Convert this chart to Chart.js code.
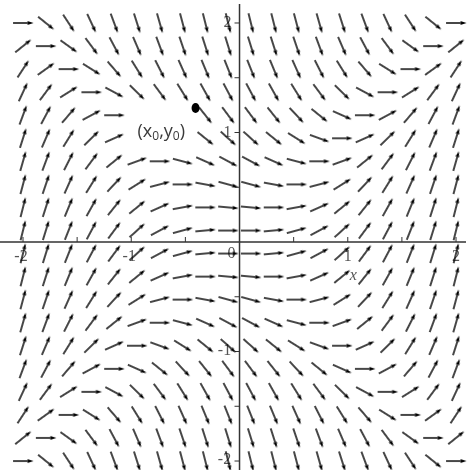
<!DOCTYPE html>
<html>
<head>
<meta charset="utf-8">
<script src="https://cdn.jsdelivr.net/npm/chart.js@4/dist/chart.umd.min.js"></script>
<style>
  html, body { margin: 0; padding: 0; background: #fff; }
  #wrap { width: 474px; height: 470px; }
</style>
</head>
<body>
<div id="wrap"><canvas id="c" width="474" height="470"></canvas></div>
<script>
// Direction field of dy/dx on a 20 x 20 grid over [-2, 2] x [-2, 2]
const gridX = [-2, -1.789, -1.579, -1.368, -1.158, -0.947, -0.737, -0.526, -0.316, -0.105,
               0.105, 0.316, 0.526, 0.737, 0.947, 1.158, 1.368, 1.579, 1.789, 2];
const gridY = [2, 1.789, 1.579, 1.368, 1.158, 0.947, 0.737, 0.526, 0.316, 0.105,
               -0.105, -0.316, -0.526, -0.737, -0.947, -1.158, -1.368, -1.579, -1.789, -2];

// slope at each grid node, one row per gridY value (top to bottom)
const slopes = [
  [0.00, -0.80, -1.51, -2.13, -2.66, -3.10, -3.46, -3.72, -3.90, -3.99, -3.99, -3.90, -3.72, -3.46, -3.10, -2.66, -2.13, -1.51, -0.80, 0.00],
  [0.80, 0.00, -0.71, -1.33, -1.86, -2.30, -2.66, -2.92, -3.10, -3.19, -3.19, -3.10, -2.92, -2.66, -2.30, -1.86, -1.33, -0.71, 0.00, 0.80],
  [1.51, 0.71, 0.00, -0.62, -1.15, -1.59, -1.95, -2.21, -2.39, -2.48, -2.48, -2.39, -2.21, -1.95, -1.59, -1.15, -0.62, 0.00, 0.71, 1.51],
  [2.13, 1.33, 0.62, 0.00, -0.53, -0.97, -1.33, -1.59, -1.77, -1.86, -1.86, -1.77, -1.59, -1.33, -0.97, -0.53, 0.00, 0.62, 1.33, 2.13],
  [2.66, 1.86, 1.15, 0.53, 0.00, -0.44, -0.80, -1.06, -1.24, -1.33, -1.33, -1.24, -1.06, -0.80, -0.44, 0.00, 0.53, 1.15, 1.86, 2.66],
  [3.10, 2.30, 1.59, 0.97, 0.44, 0.00, -0.36, -0.62, -0.80, -0.89, -0.89, -0.80, -0.62, -0.36, 0.00, 0.44, 0.97, 1.59, 2.30, 3.10],
  [3.46, 2.66, 1.95, 1.33, 0.80, 0.36, 0.00, -0.26, -0.44, -0.53, -0.53, -0.44, -0.26, 0.00, 0.36, 0.80, 1.33, 1.95, 2.66, 3.46],
  [3.72, 2.92, 2.21, 1.59, 1.06, 0.62, 0.26, 0.00, -0.18, -0.27, -0.27, -0.18, 0.00, 0.26, 0.62, 1.06, 1.59, 2.21, 2.92, 3.72],
  [3.90, 3.10, 2.39, 1.77, 1.24, 0.80, 0.44, 0.18, 0.00, -0.09, -0.09, 0.00, 0.18, 0.44, 0.80, 1.24, 1.77, 2.39, 3.10, 3.90],
  [3.99, 3.19, 2.48, 1.86, 1.33, 0.89, 0.53, 0.27, 0.09, 0.00, 0.00, 0.09, 0.27, 0.53, 0.89, 1.33, 1.86, 2.48, 3.19, 3.99],
  [3.99, 3.19, 2.48, 1.86, 1.33, 0.89, 0.53, 0.27, 0.09, 0.00, 0.00, 0.09, 0.27, 0.53, 0.89, 1.33, 1.86, 2.48, 3.19, 3.99],
  [3.90, 3.10, 2.39, 1.77, 1.24, 0.80, 0.44, 0.18, 0.00, -0.09, -0.09, 0.00, 0.18, 0.44, 0.80, 1.24, 1.77, 2.39, 3.10, 3.90],
  [3.72, 2.92, 2.21, 1.59, 1.06, 0.62, 0.26, 0.00, -0.18, -0.27, -0.27, -0.18, 0.00, 0.26, 0.62, 1.06, 1.59, 2.21, 2.92, 3.72],
  [3.46, 2.66, 1.95, 1.33, 0.80, 0.36, 0.00, -0.26, -0.44, -0.53, -0.53, -0.44, -0.26, 0.00, 0.36, 0.80, 1.33, 1.95, 2.66, 3.46],
  [3.10, 2.30, 1.59, 0.97, 0.44, 0.00, -0.36, -0.62, -0.80, -0.89, -0.89, -0.80, -0.62, -0.36, 0.00, 0.44, 0.97, 1.59, 2.30, 3.10],
  [2.66, 1.86, 1.15, 0.53, 0.00, -0.44, -0.80, -1.06, -1.24, -1.33, -1.33, -1.24, -1.06, -0.80, -0.44, 0.00, 0.53, 1.15, 1.86, 2.66],
  [2.13, 1.33, 0.62, 0.00, -0.53, -0.97, -1.33, -1.59, -1.77, -1.86, -1.86, -1.77, -1.59, -1.33, -0.97, -0.53, 0.00, 0.62, 1.33, 2.13],
  [1.51, 0.71, 0.00, -0.62, -1.15, -1.59, -1.95, -2.21, -2.39, -2.48, -2.48, -2.39, -2.21, -1.95, -1.59, -1.15, -0.62, 0.00, 0.71, 1.51],
  [0.80, 0.00, -0.71, -1.33, -1.86, -2.30, -2.66, -2.92, -3.10, -3.19, -3.19, -3.10, -2.92, -2.66, -2.30, -1.86, -1.33, -0.71, 0.00, 0.80],
  [0.00, -0.80, -1.51, -2.13, -2.66, -3.10, -3.46, -3.72, -3.90, -3.99, -3.99, -3.90, -3.72, -3.46, -3.10, -2.66, -2.13, -1.51, -0.80, 0.00]
];

// initial point
const startX = [-0.406];
const startY = [1.224];
const startLabel = ['x', '0', 'y', '0'];

// axis ticks and labels
const xTickLabels = [-2, -1, 0, 1, 2];
const yTickLabels = [-2, -1, 1, 2];
const minorTicks = [-2, -1.5, -1, -0.5, 0.5, 1, 1.5, 2];
const xAxisTitle = 'x';

// build the point list for the field
const fieldPoints = [];
gridY.forEach((yv, r) => {
  gridX.forEach((xv, c) => {
    fieldPoints.push({ x: xv, y: yv, s: slopes[r][c] });
  });
});

// one arrow glyph, pointing right, rotated per point by Chart.js
function makeArrow() {
  const cv = document.createElement('canvas');
  cv.width = 24; cv.height = 24;
  const g = cv.getContext('2d');
  g.strokeStyle = '#000';
  g.fillStyle = '#000';
  g.lineWidth = 1.45;
  g.lineCap = 'butt';
  g.beginPath();
  g.moveTo(2, 12);
  g.lineTo(19, 12);
  g.stroke();
  g.beginPath();
  g.moveTo(22.5, 12);
  g.lineTo(16.3, 10.1);
  g.lineTo(17.2, 12);
  g.lineTo(16.3, 13.9);
  g.closePath();
  g.fill();
  return cv;
}
const arrowImg = makeArrow();

const axesPlugin = {
  id: 'axesAtOrigin',
  beforeDatasetsDraw(chart) {
    const { ctx, scales: { x, y } } = chart;
    const x0 = x.getPixelForValue(0);
    const y0 = y.getPixelForValue(0);
    ctx.save();
    ctx.strokeStyle = '#333';
    ctx.lineWidth = 1.5;
    ctx.beginPath();
    ctx.moveTo(0, y0);
    ctx.lineTo(466, y0);
    ctx.moveTo(x0, 4);
    ctx.lineTo(x0, 470);
    ctx.stroke();
    ctx.lineWidth = 1;
    ctx.beginPath();
    minorTicks.forEach(v => {
      const px = x.getPixelForValue(v);
      ctx.moveTo(px, y0 - 5);
      ctx.lineTo(px, y0);
      const py = y.getPixelForValue(v);
      ctx.moveTo(x0 - 5, py);
      ctx.lineTo(x0, py);
    });
    ctx.stroke();
    ctx.fillStyle = '#555';
    ctx.font = '16px "Liberation Serif", "Times New Roman", "DejaVu Serif", serif';
    ctx.textAlign = 'center';
    ctx.textBaseline = 'middle';
    xTickLabels.forEach(v => {
      const px = x.getPixelForValue(v) - (v < 0 ? 2 : (v === 0 ? 8 : 0));
      ctx.fillText(String(v), px, y0 + (v === 0 ? 12 : 15));
    });
    yTickLabels.forEach(v => {
      const py = y.getPixelForValue(v);
      ctx.fillText(String(v), x0 - (v < 0 ? 15 : 12), py + (v > 0 ? 0 : -1));
    });
    ctx.font = 'italic 16px "Liberation Serif", "Times New Roman", "DejaVu Serif", serif';
    ctx.fillText(xAxisTitle, x.getPixelForValue(1.05), y0 + 34);
    ctx.restore();
  },
  afterDatasetsDraw(chart) {
    const { ctx, scales: { x, y } } = chart;
    const px = x.getPixelForValue(startX[0]);
    const py = y.getPixelForValue(startY[0]);
    ctx.save();
    // white patch behind the label
    ctx.fillStyle = '#fff';
    ctx.fillRect(px - 70, py - 5, 67, 47);
    // label (x0,y0) with subscripts
    const big = '18px "Open Sans", "DejaVu Sans", sans-serif';
    const small = '12px "Open Sans", "DejaVu Sans", sans-serif';
    ctx.fillStyle = '#3a3a3a';
    ctx.textBaseline = 'alphabetic';
    ctx.textAlign = 'left';
    let cx = px - 58;
    const base = py + 29;
    const parts = [
      ['(', big, 0], [startLabel[0], big, 0], [startLabel[1], small, 3],
      [',', big, 0], [startLabel[2], big, 0], [startLabel[3], small, 3], [')', big, 0]
    ];
    parts.forEach(([t, f, dy]) => {
      ctx.font = f;
      ctx.fillText(t, cx, base + dy);
      cx += ctx.measureText(t).width;
    });
    // the initial point itself
    ctx.fillStyle = '#000';
    ctx.beginPath();
    ctx.ellipse(px, py, 4, 5, 0, 0, Math.PI * 2);
    ctx.fill();
    ctx.restore();
  }
};

new Chart(document.getElementById('c'), {
  type: 'scatter',
  data: {
    datasets: [{
      data: fieldPoints,
      pointStyle: arrowImg,
      rotation: (ctx) => {
        const c = ctx.chart;
        const kx = Math.abs(c.scales.x.getPixelForValue(1) - c.scales.x.getPixelForValue(0));
        const ky = Math.abs(c.scales.y.getPixelForValue(1) - c.scales.y.getPixelForValue(0));
        const s = ctx.raw ? ctx.raw.s : 0;
        return -Math.atan2(s * ky, kx) * 180 / Math.PI;
      },
      pointRadius: 10,
      pointHoverRadius: 10
    }]
  },
  options: {
    responsive: false,
    animation: false,
    events: [],
    layout: { padding: 0, autoPadding: false },
    plugins: { legend: { display: false }, tooltip: { enabled: false } },
    scales: {
      x: { type: 'linear', min: -2.2125, max: 2.166, display: false },
      y: { type: 'linear', min: -2.082, max: 2.21, display: false }
    }
  },
  plugins: [axesPlugin]
});
</script>
</body>
</html>
